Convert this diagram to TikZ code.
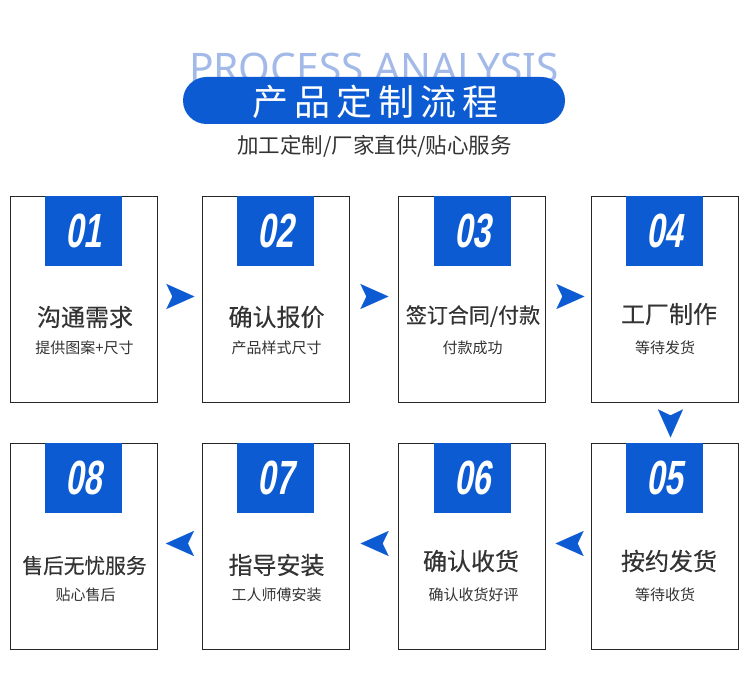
\documentclass[tikz,border=0pt]{standalone}
\usepackage{fontspec}
\usetikzlibrary{arrows.meta}
\setmainfont{Noto Sans CJK SC}
\newfontfamily\latinfont{Noto Sans}
\newfontfamily\numfont[FakeStretch=0.68,FakeSlant=0.17]{Liberation Sans}
\newfontfamily\pillfont[LetterSpace=17]{Noto Sans CJK SC}
\newfontfamily\titlefont[FakeBold=0.35]{Noto Sans CJK SC}
\definecolor{brandblue}{HTML}{0C5BD2}
\definecolor{headblue}{HTML}{A3BAE8}
\definecolor{inktext}{HTML}{333333}
\tikzset{
  cardbox/.style={draw=black!85,line width=1.2pt,fill=white,minimum width=147pt,minimum height=206pt,inner sep=0pt},
  numbox/.style={fill=brandblue,text=white,minimum width=77pt,minimum height=70pt,inner sep=0pt,font=\numfont\bfseries\fontsize{48}{48}\selectfont},
  cardtitle/.style={text=inktext,inner sep=0pt,font=\titlefont\fontsize{24}{24}\selectfont},
  cardsub/.style={text=inktext,inner sep=0pt,font=\fontsize{15}{15}\selectfont},
  flow/.style={draw=brandblue,line width=0.1pt,-{Stealth[length=28pt,width=25pt,inset=6pt,sep=0pt,color=brandblue,fill=brandblue]}}
}
\begin{document}
\begin{tikzpicture}[x=1pt,y=-1pt]
\useasboundingbox (0,0) rectangle (750,692);
\node[text=headblue,inner sep=0pt,font=\latinfont\fontsize{40.7}{40.7}\selectfont] (head) at (374,68) {PROCESS ANALYSIS};
\node[fill=brandblue,rounded corners=23.5pt,minimum width=382pt,minimum height=47pt,inner sep=0pt] (pill) at (374,100.5) {};
\node[text=white,inner sep=0pt,font=\pillfont\fontsize{36}{36}\selectfont] (pilltext) at (375.5,101.5) {产品定制流程};
\node[text=inktext,inner sep=0pt,font=\fontsize{21.5}{21.5}\selectfont] (sub) at (374.5,146) {加工定制/厂家直供/贴心服务};

\node[cardbox] (1) at (84,299.5) {};
\node[cardbox] (2) at (276,299.5) {};
\node[cardbox] (3) at (472,299.5) {};
\node[cardbox] (4) at (665,299.5) {};
\node[cardbox] (5) at (665,546.5) {};
\node[cardbox] (6) at (472,546.5) {};
\node[cardbox] (7) at (276,546.5) {};
\node[cardbox] (8) at (84,546.5) {};

\node[numbox] (n1) at (83.5,231) {01};
\node[numbox] (n2) at (275.5,231) {02};
\node[numbox] (n3) at (472.5,231) {03};
\node[numbox] (n4) at (664.5,231) {04};
\node[numbox] (n5) at (664.5,478) {05};
\node[numbox] (n6) at (472.5,478) {06};
\node[numbox] (n7) at (275.5,478) {07};
\node[numbox] (n8) at (83.5,478) {08};

\node[cardtitle] (t1) at (85,317) {沟通需求};
\node[cardtitle] (t2) at (276.5,317) {确认报价};
\node[cardtitle,font=\titlefont\fontsize{21}{21}\selectfont] (t3) at (473,316) {签订合同/付款};
\node[cardtitle] (t4) at (669,314) {工厂制作};
\node[cardtitle] (t5) at (669,561) {按约发货};
\node[cardtitle] (t6) at (471,561) {确认收货};
\node[cardtitle] (t7) at (276.5,565) {指导安装};
\node[cardtitle,font=\titlefont\fontsize{20.7}{20.7}\selectfont] (t8) at (84.5,565.5) {售后无忧服务};

\node[cardsub] (s1) at (84.5,347.7) {提供图案+尺寸};
\node[cardsub] (s2) at (276.5,347.7) {产品样式尺寸};
\node[cardsub] (s3) at (472.5,347.7) {付款成功};
\node[cardsub] (s4) at (665,347.7) {等待发货};
\node[cardsub] (s5) at (665,594.7) {等待收货};
\node[cardsub] (s6) at (473.5,595) {确认收货好评};
\node[cardsub] (s7) at (276.5,594.7) {工人师傅安装};
\node[cardsub] (s8) at (85.5,594.7) {贴心售后};

\path[flow,shorten <=16pt,shorten >=7.5pt] ([yshift=3pt]1.east) -- ([yshift=3pt]2.west);
\path[flow,shorten <=18pt,shorten >=9.5pt] ([yshift=3pt]2.east) -- ([yshift=3pt]3.west);
\path[flow,shorten <=18pt,shorten >=6.5pt] ([yshift=3pt]3.east) -- ([yshift=3pt]4.west);
\path[flow,shorten <=14pt,shorten >=5.5pt] ([xshift=5.5pt]4.south) -- ([xshift=5.5pt]5.north);
\path[flow,shorten <=15pt,shorten >=9.5pt] ([yshift=3pt]5.west) -- ([yshift=3pt]6.east);
\path[flow,shorten <=17pt,shorten >=10.5pt] ([yshift=3pt]6.west) -- ([yshift=3pt]7.east);
\path[flow,shorten <=16pt,shorten >=7.8pt] ([yshift=3pt]7.west) -- ([yshift=3pt]8.east);
\end{tikzpicture}
\end{document}
